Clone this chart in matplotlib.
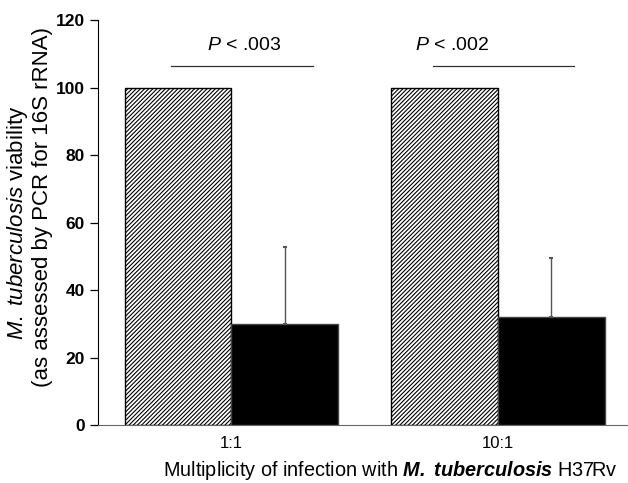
#!/usr/bin/env python3

import numpy as np
import matplotlib
matplotlib.use('Agg')
import matplotlib.pyplot as plt

plt.rcParams['font.family'] = ['Liberation Sans', 'DejaVu Sans']
plt.rcParams['mathtext.fontset'] = 'custom'
plt.rcParams['mathtext.rm'] = 'Liberation Sans'
plt.rcParams['mathtext.it'] = 'Liberation Sans:italic'
plt.rcParams['mathtext.bf'] = 'Liberation Sans:bold:italic'
plt.rcParams['hatch.linewidth'] = 0.8

# data
groups = ['1:1', '10:1']
control = [100, 100]
treated = [30, 32]
treated_err = [22.6, 17.5]
p_labels = ['.003', '.002']

x = np.arange(len(groups))
width = 0.4

W, H = 628, 483
fig = plt.figure(figsize=(W / 100, H / 100), dpi=100)
ax = fig.add_axes([0.156, 0.12, 0.844, 0.8386])

ax.bar(x - width / 2, control, width, color='white', edgecolor='black',
       hatch='////////', linewidth=1.0)
ax.bar(x + width / 2, treated, width, color='black', edgecolor='#444444',
       linewidth=1.0)
ax.errorbar(x + width / 2, treated, yerr=[np.zeros(len(treated)), treated_err],
            fmt='none', ecolor='#555555', elinewidth=1.0, capsize=1.5, capthick=1.5)

# significance lines
sig_y = 106.5
line_spans = [(-0.226, 0.305), (0.755, 1.286)]
text_x = [-0.09, 0.688]
for (x0, x1), tx, p in zip(line_spans, text_x, p_labels):
    ax.plot([x0, x1], [sig_y, sig_y], color='#333333', linewidth=0.9)
    ax.text(tx, 112.5, r'$\it{P}$' + ' < ' + p, fontsize=14, va='center', ha='left')

ax.set_xlim(-0.5, 1.487)
ax.set_ylim(0, 120)
ax.set_yticks(range(0, 121, 20))
ax.set_xticks(x)
ax.set_xticklabels(groups)
ax.tick_params(axis='x', length=0, pad=8, labelsize=12)
ax.tick_params(axis='y', direction='out', length=6, width=0.9, labelsize=12.5)
for lab in ax.get_yticklabels():
    lab.set_fontweight('bold')

ax.spines['top'].set_visible(False)
ax.spines['right'].set_visible(False)
ax.spines['bottom'].set_color('#666666')

# y label, two lines
fig.text(18 / W, 1 - 223 / H, r'$\it{M.\ tuberculosis}$ viability',
         rotation=90, fontsize=16, ha='center', va='center')
fig.text(43 / W, 1 - 207 / H, '(as assessed by PCR for 16S rRNA)',
         rotation=90, fontsize=16, ha='center', va='center')

fig.text(390 / W, 7 / H,
         'Multiplicity of infection with ' + r'$\mathbf{M.\ tuberculosis}$' + ' H37Rv',
         fontsize=14.3, ha='center', va='baseline')

fig.savefig('out.png', dpi=100)
